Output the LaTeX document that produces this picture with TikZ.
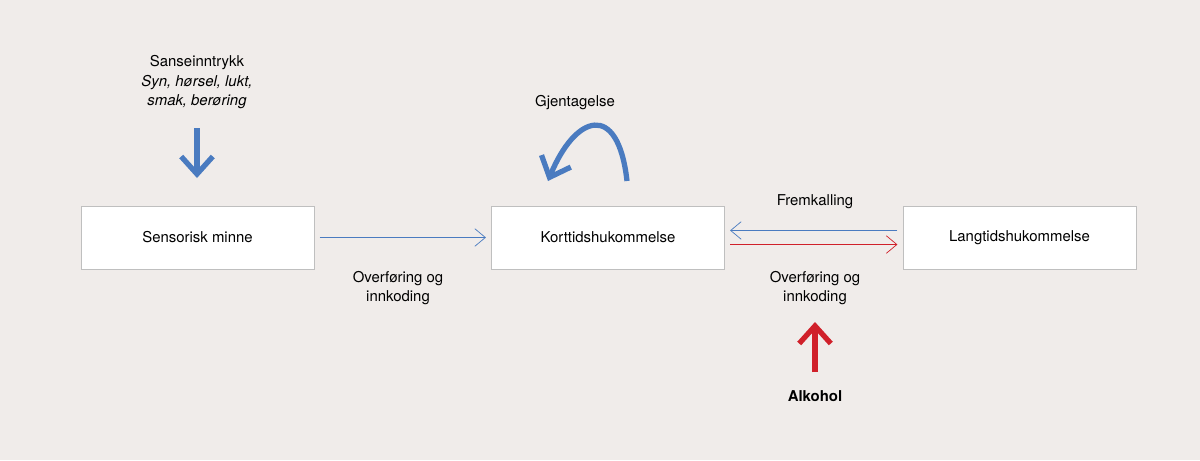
\documentclass[tikz,border=0pt]{standalone}
\usepackage{fontspec}
\setmainfont{TeX Gyre Heros}
\usetikzlibrary{positioning,arrows.meta}

\definecolor{bgcol}{HTML}{F0ECEA}
\definecolor{memblue}{HTML}{4A7BC0}
\definecolor{memred}{HTML}{D0202A}

\tikzset{
	membox/.style={draw=black!25, fill=white, minimum width=4.66cm, minimum height=1.26cm, font=\fontsize{8.5}{10}\selectfont},
	lbl/.style={font=\fontsize{8.5}{10.5}\selectfont, align=center},
	thinarrow/.style={-{Straight Barb[length=6pt,width=10pt]}, thin},
	fatarrow/.style={-{Straight Barb[length=10pt,width=18pt]}, line width=3pt}
}

\begin{document}
\begin{tikzpicture}[x=0.02cm, y=-0.02cm]

		\fill[bgcol] (0,0) rectangle (1200,460);
		\useasboundingbox (0,0) rectangle (1200,460);

		% memory stores
		\node[membox] (sensory) at (197.5, 237.5) {Sensorisk minne};
		\node[membox] (short) at (608, 237.5) {Korttidshukommelse};
		\node[membox] (long) at (1019.5, 237.5) {Langtidshukommelse};

		% sensory input
		\node[lbl] (input) at (197, 82) {Sanseinntrykk\\[1pt] \itshape Syn, hørsel, lukt,\\ \itshape smak, berøring};
		\coordinate (inputtop) at (197, 128);
		\draw[fatarrow, memblue] (inputtop) -- ++(0, 50);

		% transfers
		\draw[thinarrow, memblue] ([xshift=3pt]sensory.east) -- ([xshift=-3pt]short.west);
		\node[lbl] (encodeone) at (398, 288) {Overføring og\\innkoding};

		\draw[thinarrow, memblue] ([xshift=-3pt, yshift=4pt]long.west) -- ([xshift=3pt, yshift=4pt]short.east);
		\draw[thinarrow, memred] ([xshift=3pt, yshift=-4pt]short.east) -- ([xshift=-3pt, yshift=-4pt]long.west);
		\node[lbl] (recall) at (815, 202) {Fremkalling};
		\node[lbl] (encodetwo) at (815, 288) {Overføring og\\innkoding};

		% rehearsal loop
		\node[lbl] (rehearse) at (575, 103) {Gjentagelse};
		\coordinate (loopstart) at (627, 181);
		\coordinate (loopend) at (548, 181);
		\draw[fatarrow, memblue] (loopstart) .. controls (618, 100) and (575, 115) .. (loopend);

		% alcohol
		\node[lbl, font=\fontsize{8.5}{10}\selectfont\bfseries] (alcohol) at (815, 396) {Alkohol};
		\coordinate (alcoholtop) at (815, 372);
		\draw[fatarrow, memred] (alcoholtop) -- ++(0, -50);

	\end{tikzpicture}
\end{document}
